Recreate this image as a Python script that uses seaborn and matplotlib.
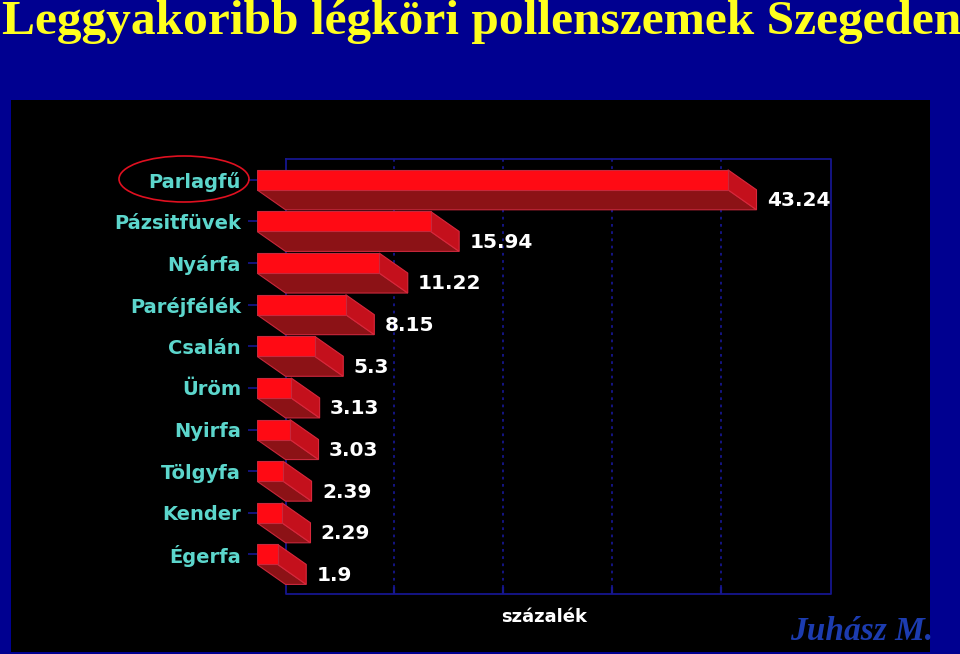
import matplotlib
matplotlib.use('Agg')
import matplotlib.pyplot as plt
from matplotlib.patches import Ellipse, Polygon, Rectangle
import seaborn as sns
import pandas as pd

nevek = ['Parlagfű', 'Pázsitfüvek', 'Nyárfa', 'Paréjfélék', 'Csalán',
         'Üröm', 'Nyirfa', 'Tölgyfa', 'Kender', 'Égerfa']
ertekek = [43.24, 15.94, 11.22, 8.15, 5.3, 3.13, 3.03, 2.39, 2.29, 1.9]
cimkek = ['43.24', '15.94', '11.22', '8.15', '5.3', '3.13', '3.03', '2.39', '2.29', '1.9']
racs = [10, 20, 30, 40]

W, H = 960, 654
KEK = '#000090'
VONAL = '#16168e'
PIROS = '#ff0a14'
dx, dy = 2.62, 0.48  # 3D melyseg adategysegben

df = pd.DataFrame({'nev': nevek, 'ertek': ertekek})

fig = plt.figure(figsize=(W / 100, H / 100), dpi=100, facecolor=KEK)

# fekete hatter
fig.patches.append(Rectangle((11 / W, 2 / H), 919 / W, 552 / H, transform=fig.transFigure,
                             facecolor='black', edgecolor='none', zorder=-5))

ax = fig.add_axes([257 / W, (H - 594) / H, (831 - 257) / W, (594 - 159) / H])
ax.patch.set_alpha(0)

# hatso sik es racs
ax.plot([dx, dx, 52.7, 52.7, dx], [-0.5, 9.95, 9.95, -0.5, -0.5], color=VONAL, lw=1.3, zorder=1,
        clip_on=False)
for r in racs:
    ax.plot([r + dx, r + dx], [-0.5, 9.95], color=VONAL, lw=1.3, ls=(0, (1.5, 2.5)), zorder=1)
    ax.plot([r + dx, r + dx], [9.8, 9.95], color=VONAL, lw=1.6, zorder=1)

# elso lap a seaborn-nal
sns.barplot(data=df, y='nev', x='ertek', ax=ax, color=PIROS, saturation=1, width=0.48,
            edgecolor='#c8283c', linewidth=0.8, zorder=4)

# also es oldalso lap az ertekekbol
for i, v in enumerate(ertekek):
    top = i - 0.24
    bot = i + 0.24
    ax.add_patch(Polygon([(0, bot), (v, bot), (v + dx, bot + dy), (dx, bot + dy)],
                         facecolor='#8c1216', edgecolor='#c8283c', lw=0.8, zorder=3))
    ax.add_patch(Polygon([(v, top), (v + dx, top + dy), (v + dx, bot + dy), (v, bot)],
                         facecolor='#c4101c', edgecolor='#d8283c', lw=0.8, zorder=3))
    ax.text(v + dx + 0.95, i + 0.5, cimkek[i], color='white', fontsize=14.5, fontweight='bold',
            family='DejaVu Sans', va='center', ha='left', zorder=5)

ax.set_xlim(0, 52.7)
ax.set_ylim(9.95, -0.5)
ax.set_xlabel('')
ax.set_ylabel('')
ax.set_xticks([])
ax.tick_params(axis='y', length=6.5, width=1.2, color=VONAL, pad=5, labelcolor='#5cd6cc')
for t in ax.get_yticklabels():
    t.set_fontsize(14)
    t.set_fontweight('bold')
    t.set_family('DejaVu Sans')
for s in ax.spines.values():
    s.set_visible(False)

# kiemeles
fig.add_artist(Ellipse((184 / W, (H - 179) / H), 130 / W, 46 / H, transform=fig.transFigure,
                       facecolor='none', edgecolor='#e01020', lw=1.2))

fig.text(544 / W, (H - 617) / H, 'százalék', color='white', fontsize=13, fontweight='bold',
         family='DejaVu Sans', ha='center', va='center')
fig.text(2 / W, (H - 34) / H, 'Leggyakoribb légköri pollenszemek Szegeden', color='#ffff1e',
         fontsize=35.6, fontweight='bold', family='Liberation Serif', ha='left', va='baseline')
fig.text(862 / W, (H - 632) / H, 'Juhász M.', color='#1c3cb0', fontsize=24, style='italic',
         fontweight='bold', family='Liberation Serif', ha='center', va='center')

fig.savefig('out.png', dpi=100, facecolor=KEK)
